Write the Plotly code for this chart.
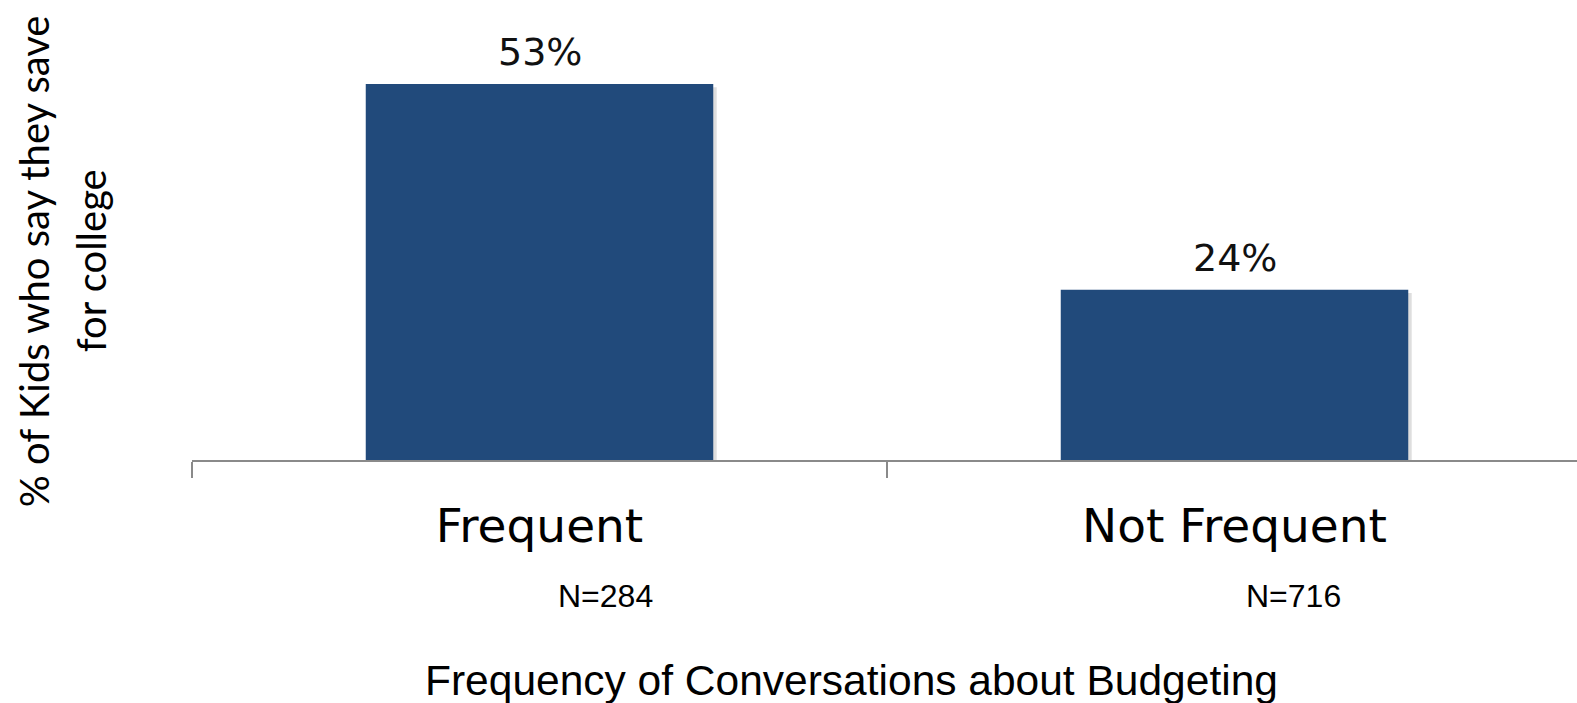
import plotly.graph_objects as go

# Survey results: share of kids who say they save for college
categories = ["Frequent", "Not Frequent"]
pct_saving = [53, 24]
sample_sizes = [284, 716]

BAR_COLOR = "#214a7b"
AXIS_GRAY = "#8a8a8a"

fig = go.Figure()

# soft drop shadow sitting just behind each bar
fig.add_trace(go.Bar(
    x=categories, y=pct_saving, base=-0.45,
    width=0.5, offset=-0.245,
    marker=dict(color="rgba(0,0,0,0.13)", line=dict(width=0)),
    hoverinfo="skip", showlegend=False,
))
fig.add_trace(go.Bar(
    x=categories, y=pct_saving,
    width=0.5, offset=-0.25,
    marker=dict(color=BAR_COLOR, line=dict(width=0)),
    showlegend=False,
))

annotations = []
# value labels above the bars
for cat, v in zip(categories, pct_saving):
    annotations.append(dict(
        x=cat, y=v, xref="x", yref="y", text=f"{v}%",
        showarrow=False, yanchor="bottom", yshift=8,
        font=dict(family="DejaVu Sans", size=38, color="#111111"),
    ))
# sample sizes under each category (set a little right of centre)
for cat, n, dx in zip(categories, sample_sizes, [66, 59]):
    annotations.append(dict(
        x=cat, y=-0.295, xref="x", yref="paper", text=f"N={n}",
        showarrow=False, xshift=dx, yanchor="middle",
        font=dict(family="Liberation Sans", size=32, color="#000000"),
    ))
# axis titles
annotations.append(dict(
    x=0.476, y=-0.479, xref="paper", yref="paper",
    text="Frequency of Conversations about Budgeting",
    showarrow=False, yanchor="middle", xanchor="center",
    font=dict(family="Liberation Sans", size=42.5, color="#000000"),
))
ytitle_lines = ["% of Kids who say they save", "for college"]
for line, xpx in zip(ytitle_lines, [34, 91]):
    annotations.append(dict(
        x=(xpx - 192) / 1385, y=0.432, xref="paper", yref="paper",
        text=line, showarrow=False, textangle=-90,
        xanchor="center", yanchor="middle",
        font=dict(family="Lato", size=40, color="#000000"),
    ))

fig.update_layout(
    width=1577, height=703,
    margin=dict(l=192, r=0, t=0, b=243),
    paper_bgcolor="white", plot_bgcolor="white",
    barmode="overlay",
    annotations=annotations,
    xaxis=dict(
        type="category", range=[-0.5, 1.4928],
        showline=True, linecolor=AXIS_GRAY, linewidth=2,
        ticks="outside", tickson="boundaries", ticklen=16,
        tickwidth=2, tickcolor=AXIS_GRAY,
        showgrid=False, zeroline=False,
        ticklabelstandoff=24,
        tickfont=dict(family="DejaVu Sans", size=47, color="#000000"),
    ),
    yaxis=dict(visible=False, range=[0, 64.85], fixedrange=True),
)

fig.write_html("out.html")
